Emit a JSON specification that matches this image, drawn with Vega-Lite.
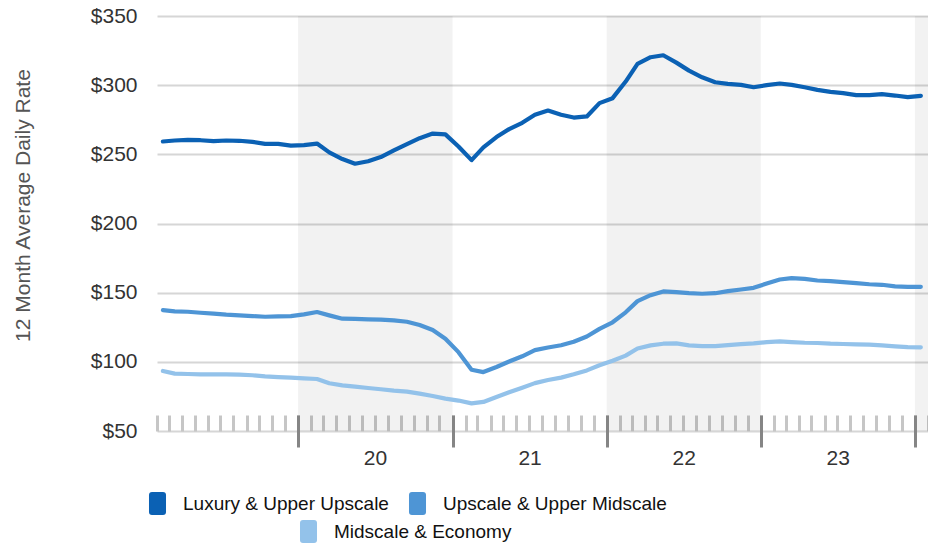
{
  "$schema": "https://vega.github.io/schema/vega-lite/v6.json",
  "width": 771,
  "height": 415,
  "autosize": "none",
  "padding": {"left": 157, "top": 16, "right": 0, "bottom": 114},
  "background": "white",
  "config": {"view": {"stroke": null}, "font": "Liberation Sans"},
  "datasets": {
    "bands": [
      {"start": "2020-01-01", "end": "2021-01-01"},
      {"start": "2022-01-01", "end": "2023-01-01"},
      {"start": "2024-01-01", "end": "2025-01-01"}
    ],
    "adr": [
      {"date": "2019-02-15", "Luxury & Upper Upscale": 259.3, "Upscale & Upper Midscale": 137.4, "Midscale & Economy": 93.4},
      {"date": "2019-03-15", "Luxury & Upper Upscale": 260.0, "Upscale & Upper Midscale": 136.5, "Midscale & Economy": 91.5},
      {"date": "2019-04-15", "Luxury & Upper Upscale": 260.5, "Upscale & Upper Midscale": 136.2, "Midscale & Economy": 91.2},
      {"date": "2019-05-15", "Luxury & Upper Upscale": 260.2, "Upscale & Upper Midscale": 135.5, "Midscale & Economy": 91.0},
      {"date": "2019-06-15", "Luxury & Upper Upscale": 259.5, "Upscale & Upper Midscale": 134.8, "Midscale & Economy": 91.0},
      {"date": "2019-07-15", "Luxury & Upper Upscale": 260.0, "Upscale & Upper Midscale": 134.1, "Midscale & Economy": 91.0},
      {"date": "2019-08-15", "Luxury & Upper Upscale": 259.8, "Upscale & Upper Midscale": 133.6, "Midscale & Economy": 90.8},
      {"date": "2019-09-15", "Luxury & Upper Upscale": 259.0, "Upscale & Upper Midscale": 133.1, "Midscale & Economy": 90.3},
      {"date": "2019-10-15", "Luxury & Upper Upscale": 257.6, "Upscale & Upper Midscale": 132.6, "Midscale & Economy": 89.5},
      {"date": "2019-11-15", "Luxury & Upper Upscale": 257.6, "Upscale & Upper Midscale": 132.9, "Midscale & Economy": 89.0},
      {"date": "2019-12-15", "Luxury & Upper Upscale": 256.3, "Upscale & Upper Midscale": 133.0, "Midscale & Economy": 88.6},
      {"date": "2020-01-15", "Luxury & Upper Upscale": 256.7, "Upscale & Upper Midscale": 134.3, "Midscale & Economy": 88.1},
      {"date": "2020-02-15", "Luxury & Upper Upscale": 257.8, "Upscale & Upper Midscale": 136.0, "Midscale & Economy": 87.6},
      {"date": "2020-03-15", "Luxury & Upper Upscale": 251.4, "Upscale & Upper Midscale": 133.6, "Midscale & Economy": 84.5},
      {"date": "2020-04-15", "Luxury & Upper Upscale": 246.6, "Upscale & Upper Midscale": 131.2, "Midscale & Economy": 83.0},
      {"date": "2020-05-15", "Luxury & Upper Upscale": 243.2, "Upscale & Upper Midscale": 131.0, "Midscale & Economy": 82.1},
      {"date": "2020-06-15", "Luxury & Upper Upscale": 245.0, "Upscale & Upper Midscale": 130.7, "Midscale & Economy": 81.1},
      {"date": "2020-07-15", "Luxury & Upper Upscale": 248.0, "Upscale & Upper Midscale": 130.5, "Midscale & Economy": 80.2},
      {"date": "2020-08-15", "Luxury & Upper Upscale": 252.8, "Upscale & Upper Midscale": 130.0, "Midscale & Economy": 79.2},
      {"date": "2020-09-15", "Luxury & Upper Upscale": 257.4, "Upscale & Upper Midscale": 129.0, "Midscale & Economy": 78.5},
      {"date": "2020-10-15", "Luxury & Upper Upscale": 261.7, "Upscale & Upper Midscale": 126.6, "Midscale & Economy": 77.0},
      {"date": "2020-11-15", "Luxury & Upper Upscale": 265.0, "Upscale & Upper Midscale": 123.0, "Midscale & Economy": 75.3},
      {"date": "2020-12-15", "Luxury & Upper Upscale": 264.4, "Upscale & Upper Midscale": 116.7, "Midscale & Economy": 73.4},
      {"date": "2021-01-15", "Luxury & Upper Upscale": 255.7, "Upscale & Upper Midscale": 107.0, "Midscale & Economy": 72.0},
      {"date": "2021-02-15", "Luxury & Upper Upscale": 245.8, "Upscale & Upper Midscale": 94.3, "Midscale & Economy": 70.0},
      {"date": "2021-03-15", "Luxury & Upper Upscale": 255.0, "Upscale & Upper Midscale": 92.6, "Midscale & Economy": 71.0},
      {"date": "2021-04-15", "Luxury & Upper Upscale": 262.5, "Upscale & Upper Midscale": 96.3, "Midscale & Economy": 74.6},
      {"date": "2021-05-15", "Luxury & Upper Upscale": 268.2, "Upscale & Upper Midscale": 100.2, "Midscale & Economy": 78.0},
      {"date": "2021-06-15", "Luxury & Upper Upscale": 272.8, "Upscale & Upper Midscale": 104.0, "Midscale & Economy": 81.3},
      {"date": "2021-07-15", "Luxury & Upper Upscale": 278.6, "Upscale & Upper Midscale": 108.5, "Midscale & Economy": 84.6},
      {"date": "2021-08-15", "Luxury & Upper Upscale": 281.7, "Upscale & Upper Midscale": 110.4, "Midscale & Economy": 86.9},
      {"date": "2021-09-15", "Luxury & Upper Upscale": 278.6, "Upscale & Upper Midscale": 112.0, "Midscale & Economy": 88.6},
      {"date": "2021-10-15", "Luxury & Upper Upscale": 276.6, "Upscale & Upper Midscale": 114.5, "Midscale & Economy": 91.0},
      {"date": "2021-11-15", "Luxury & Upper Upscale": 277.4, "Upscale & Upper Midscale": 118.3, "Midscale & Economy": 93.8},
      {"date": "2021-12-15", "Luxury & Upper Upscale": 287.0, "Upscale & Upper Midscale": 123.8, "Midscale & Economy": 97.5},
      {"date": "2022-01-15", "Luxury & Upper Upscale": 290.6, "Upscale & Upper Midscale": 128.6, "Midscale & Economy": 100.8},
      {"date": "2022-02-15", "Luxury & Upper Upscale": 302.6, "Upscale & Upper Midscale": 135.8, "Midscale & Economy": 104.5},
      {"date": "2022-03-15", "Luxury & Upper Upscale": 315.4, "Upscale & Upper Midscale": 143.9, "Midscale & Economy": 109.6},
      {"date": "2022-04-15", "Luxury & Upper Upscale": 320.2, "Upscale & Upper Midscale": 148.2, "Midscale & Economy": 111.9},
      {"date": "2022-05-15", "Luxury & Upper Upscale": 321.6, "Upscale & Upper Midscale": 150.9, "Midscale & Economy": 113.1},
      {"date": "2022-06-15", "Luxury & Upper Upscale": 316.3, "Upscale & Upper Midscale": 150.4, "Midscale & Economy": 113.3},
      {"date": "2022-07-15", "Luxury & Upper Upscale": 310.5, "Upscale & Upper Midscale": 149.7, "Midscale & Economy": 111.9},
      {"date": "2022-08-15", "Luxury & Upper Upscale": 305.7, "Upscale & Upper Midscale": 149.2, "Midscale & Economy": 111.4},
      {"date": "2022-09-15", "Luxury & Upper Upscale": 302.1, "Upscale & Upper Midscale": 149.6, "Midscale & Economy": 111.4},
      {"date": "2022-10-15", "Luxury & Upper Upscale": 300.9, "Upscale & Upper Midscale": 151.1, "Midscale & Economy": 112.1},
      {"date": "2022-11-15", "Luxury & Upper Upscale": 300.2, "Upscale & Upper Midscale": 152.3, "Midscale & Economy": 112.8},
      {"date": "2022-12-15", "Luxury & Upper Upscale": 298.5, "Upscale & Upper Midscale": 153.5, "Midscale & Economy": 113.3},
      {"date": "2023-01-15", "Luxury & Upper Upscale": 300.0, "Upscale & Upper Midscale": 156.6, "Midscale & Economy": 114.3},
      {"date": "2023-02-15", "Luxury & Upper Upscale": 301.2, "Upscale & Upper Midscale": 159.5, "Midscale & Economy": 114.8},
      {"date": "2023-03-15", "Luxury & Upper Upscale": 300.2, "Upscale & Upper Midscale": 160.5, "Midscale & Economy": 114.3},
      {"date": "2023-04-15", "Luxury & Upper Upscale": 298.5, "Upscale & Upper Midscale": 160.0, "Midscale & Economy": 113.8},
      {"date": "2023-05-15", "Luxury & Upper Upscale": 296.6, "Upscale & Upper Midscale": 158.8, "Midscale & Economy": 113.6},
      {"date": "2023-06-15", "Luxury & Upper Upscale": 295.2, "Upscale & Upper Midscale": 158.3, "Midscale & Economy": 113.1},
      {"date": "2023-07-15", "Luxury & Upper Upscale": 294.2, "Upscale & Upper Midscale": 157.6, "Midscale & Economy": 112.9},
      {"date": "2023-08-15", "Luxury & Upper Upscale": 292.8, "Upscale & Upper Midscale": 156.9, "Midscale & Economy": 112.6},
      {"date": "2023-09-15", "Luxury & Upper Upscale": 292.8, "Upscale & Upper Midscale": 156.1, "Midscale & Economy": 112.4},
      {"date": "2023-10-15", "Luxury & Upper Upscale": 293.5, "Upscale & Upper Midscale": 155.7, "Midscale & Economy": 111.9},
      {"date": "2023-11-15", "Luxury & Upper Upscale": 292.5, "Upscale & Upper Midscale": 154.5, "Midscale & Economy": 111.2},
      {"date": "2023-12-15", "Luxury & Upper Upscale": 291.3, "Upscale & Upper Midscale": 154.2, "Midscale & Economy": 110.7},
      {"date": "2024-01-15", "Luxury & Upper Upscale": 292.3, "Upscale & Upper Midscale": 154.2, "Midscale & Economy": 110.5}
    ]
  },
  "layer": [
    {
      "data": {"name": "bands"},
      "mark": {"type": "rect", "fill": "#000000", "opacity": 0.05, "clip": true},
      "encoding": {
        "x": {
          "field": "start", "type": "temporal",
          "scale": {"type": "utc", "domain": [{"year": 2019, "month": 2, "date": 1, "utc": true}, {"year": 2024, "month": 2, "date": 1, "utc": true}]},
          "axis": {
            "orient": "bottom", "offset": -16, "tickCount": {"interval": "month", "step": 1},
            "tickSize": 16, "tickWidth": 3, "tickColor": "#c6c6c6", "labels": false,
            "domain": false, "grid": false, "title": null
          }
        },
        "x2": {"field": "end"}
      }
    },
    {
      "data": {"name": "adr"},
      "transform": [
        {"fold": ["Luxury & Upper Upscale", "Upscale & Upper Midscale", "Midscale & Economy"], "as": ["segment", "rate"]},
        {"filter": "datum.segment !== 'Midscale & Economy'"}
      ],
      "mark": {"type": "line", "strokeWidth": 4.2, "strokeJoin": "round", "strokeCap": "round", "clip": true},
      "encoding": {
        "x": {
          "field": "date", "type": "temporal",
          "scale": {"type": "utc", "domain": [{"year": 2019, "month": 2, "date": 1, "utc": true}, {"year": 2024, "month": 2, "date": 1, "utc": true}]},
          "axis": {
            "orient": "bottom", "offset": -16,
            "values": [
              {"year": 2020, "month": 1, "date": 1, "utc": true},
              {"year": 2021, "month": 1, "date": 1, "utc": true},
              {"year": 2022, "month": 1, "date": 1, "utc": true},
              {"year": 2023, "month": 1, "date": 1, "utc": true},
              {"year": 2024, "month": 1, "date": 1, "utc": true}
            ],
            "tickSize": 32, "tickWidth": 3, "tickColor": "#858585",
            "domain": false, "grid": false, "title": null,
            "format": "%y", "labelExpr": "datum.label == '24' ? '' : datum.label",
            "labelOffset": 77, "labelPadding": 0, "labelFontSize": 21, "labelColor": "#333333",
            "labelOverlap": false, "labelFlush": false, "labelBound": false, "zindex": 1
          }
        },
        "y": {
          "field": "rate", "type": "quantitative",
          "scale": {"domain": [50, 350], "nice": false, "zero": false},
          "axis": {
            "values": [50, 100, 150, 200, 250, 300, 350], "format": "$,.0f",
            "grid": true, "gridColor": "#d6d6d6", "gridWidth": 2,
            "domain": false, "ticks": false, "tickSize": 0, "labelPadding": 20,
            "labelFontSize": 21, "labelColor": "#333333",
            "title": "12 Month Average Daily Rate", "titleFontSize": 21, "titleFontWeight": "normal",
            "titleColor": "#555555", "titleX": -124, "titleY": 189
          }
        },
        "color": {
          "field": "segment", "type": "nominal",
          "scale": {"domain": ["Luxury & Upper Upscale", "Upscale & Upper Midscale"], "range": ["#0b61b4", "#4e95d5"]},
          "legend": {
            "orient": "none", "legendX": -11, "legendY": 476, "direction": "horizontal", "title": null,
            "symbolType": "M-0.48,-1H0.48Q0.74,-1 0.74,-0.74V0.74Q0.74,1 0.48,1H-0.48Q-0.74,1 -0.74,0.74V-0.74Q-0.74,-1 -0.48,-1Z",
            "symbolSize": 529, "symbolStrokeWidth": 0, "symbolOpacity": 1,
            "labelFont": "Liberation Sans", "labelFontSize": 19, "labelColor": "#111111", "labelLimit": 0,
            "labelOffset": 14, "columnPadding": 17,
            "encode": {"symbols": {"update": {"fill": {"scale": "color", "field": "value"}, "strokeWidth": {"value": 0}}}}
          }
        }
      }
    },
    {
      "data": {"name": "adr"},
      "transform": [
        {"fold": ["Luxury & Upper Upscale", "Upscale & Upper Midscale", "Midscale & Economy"], "as": ["segment", "rate"]},
        {"filter": "datum.segment === 'Midscale & Economy'"}
      ],
      "mark": {"type": "line", "strokeWidth": 4.2, "strokeJoin": "round", "strokeCap": "round", "clip": true},
      "encoding": {
        "x": {
          "field": "date", "type": "temporal",
          "scale": {"type": "utc", "domain": [{"year": 2019, "month": 2, "date": 1, "utc": true}, {"year": 2024, "month": 2, "date": 1, "utc": true}]},
          "axis": null
        },
        "y": {"field": "rate", "type": "quantitative", "scale": {"domain": [50, 350], "nice": false, "zero": false}},
        "stroke": {
          "field": "segment", "type": "nominal",
          "scale": {"domain": ["Midscale & Economy"], "range": ["#93c2ea"]},
          "legend": {
            "orient": "none", "legendX": 140, "legendY": 504, "direction": "horizontal", "title": null,
            "symbolType": "M-0.48,-1H0.48Q0.74,-1 0.74,-0.74V0.74Q0.74,1 0.48,1H-0.48Q-0.74,1 -0.74,0.74V-0.74Q-0.74,-1 -0.48,-1Z",
            "symbolSize": 529, "symbolStrokeWidth": 0, "symbolOpacity": 1, "symbolFillColor": "#93c2ea",
            "labelFont": "Liberation Sans", "labelFontSize": 19, "labelColor": "#111111", "labelLimit": 0,
            "labelOffset": 14,
            "encode": {"symbols": {"update": {"fill": {"scale": "stroke", "field": "value"}, "strokeWidth": {"value": 0}}}}
          }
        }
      }
    }
  ],
  "resolve": {"axis": {"x": "independent"}}
}
